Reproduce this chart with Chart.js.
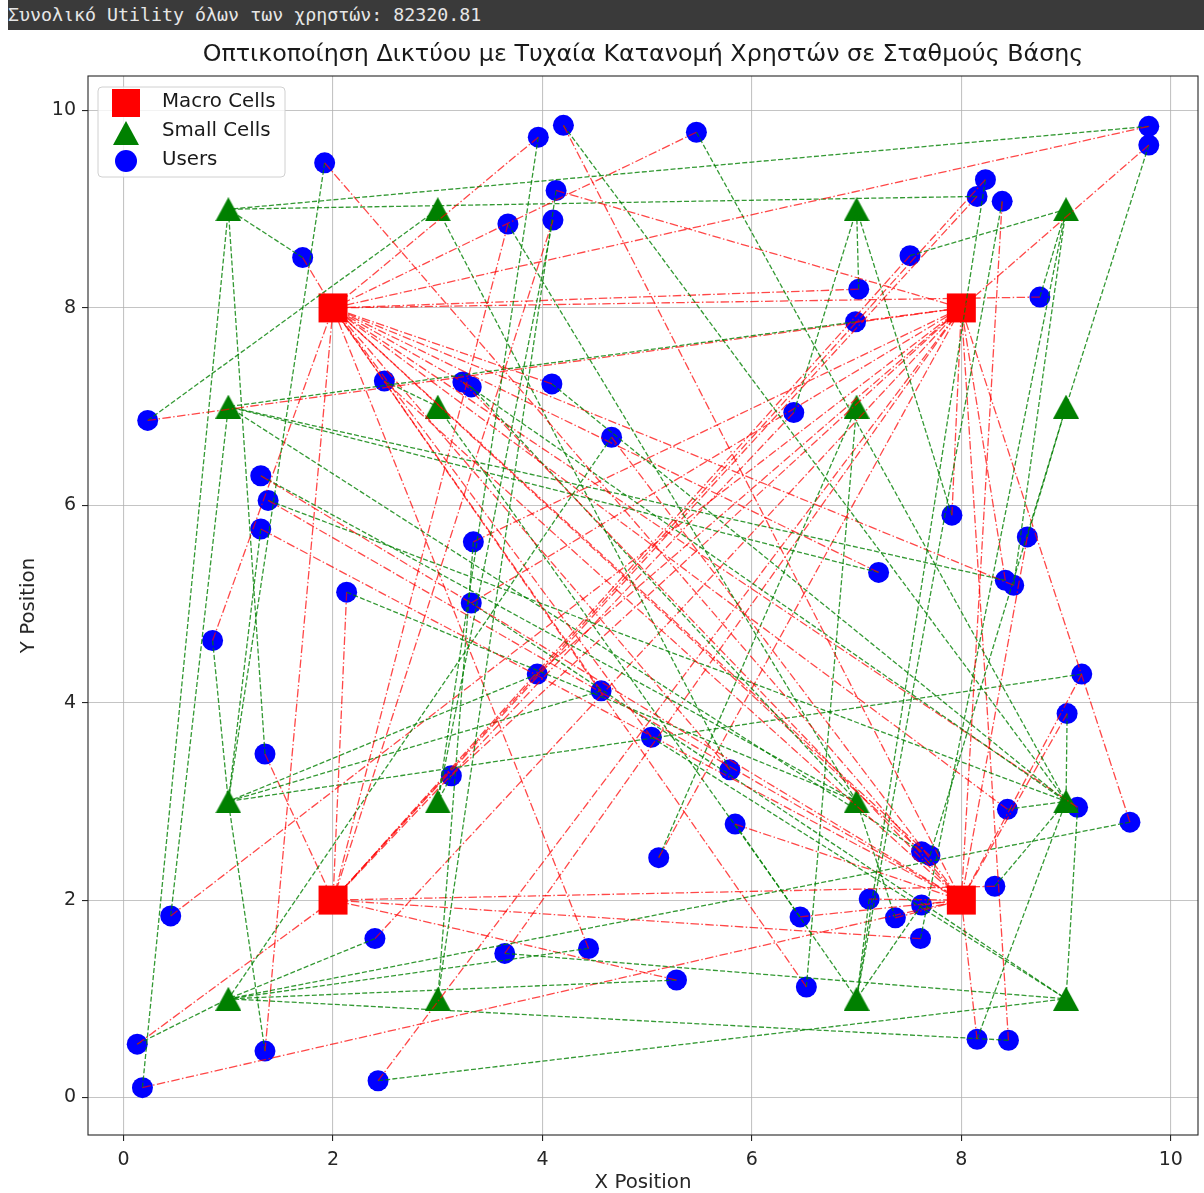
<!DOCTYPE html>
<html>
<head>
<meta charset="utf-8">
<script src="https://cdn.jsdelivr.net/npm/chart.js@4.4.0/dist/chart.umd.min.js"></script>
<style>
  html, body { margin: 0; padding: 0; background: #fff; }
  #wrap { position: absolute; left: 0; top: 0; width: 1204px; height: 1193px; }
  #bar {
    position: absolute; left: 8px; top: 0; width: 1196px; height: 30px;
    background: #3a3a3a; color: #e6e6e6;
    font: 18.3px 'DejaVu Sans Mono', monospace; line-height: 30px;
    white-space: nowrap; overflow: hidden;
  }
</style>
</head>
<body>
<div id="wrap"><canvas id="netChart" width="1204" height="1193"></canvas></div>
<div id="bar">Συνολικό Utility όλων των χρηστών: 82320.81</div>
<script>
// Base stations
const macroX = [2, 8, 2, 8];
const macroY = [8, 8, 2, 2];
const smallX = [1, 3, 7, 9, 1, 3, 7, 9, 1, 3, 7, 9, 1, 3, 7, 9];
const smallY = [9, 9, 9, 9, 7, 7, 7, 7, 3, 3, 3, 3, 1, 1, 1, 1];

// Users (positions)
const userX = [9.79, 9.79, 4.20, 3.96, 5.47, 1.92, 4.13, 4.10, 3.67, 8.23,
               8.15, 8.39, 1.71, 7.51, 7.02, 8.75, 6.99, 0.23, 2.49, 3.24,
               3.32, 4.09, 6.40, 4.66, 1.31, 1.38, 1.31, 7.91, 8.63, 3.34,
               7.21, 8.42, 8.50, 2.13, 3.32, 0.85, 9.15, 3.95, 4.56, 9.01,
               5.04, 1.35, 5.79, 3.13, 5.84, 9.11, 8.44, 9.61, 7.62, 7.70,
               5.11, 8.32, 7.12, 7.62, 6.46, 7.37, 0.45, 2.40, 7.61, 4.44,
               3.64, 5.28, 6.52, 0.13, 1.35, 8.15, 8.45, 2.43, 0.18];
const userY = [9.84, 9.65, 9.85, 9.73, 9.78, 9.47, 9.19, 8.89, 8.85, 9.30,
               9.13, 9.08, 8.51, 8.53, 8.19, 8.11, 7.86, 6.86, 7.26, 7.25,
               7.20, 7.23, 6.94, 6.69, 6.30, 6.05, 5.76, 5.90, 5.68, 5.63,
               5.32, 5.24, 5.19, 5.12, 5.01, 4.63, 4.29, 4.29, 4.12, 3.89,
               3.65, 3.48, 3.32, 3.26, 2.77, 2.94, 2.92, 2.79, 2.49, 2.45,
               2.43, 2.14, 2.01, 1.95, 1.83, 1.82, 1.84, 1.61, 1.61, 1.51,
               1.46, 1.19, 1.12, 0.54, 0.47, 0.59, 0.58, 0.17, 0.10];
// index of the macro cell and of the small cell each user is linked to
const userMacro = [0, 1, 3, 0, 0, 3, 1, 2, 2, 2,
                   2, 3, 0, 2, 0, 0, 1, 1, 3, 3,
                   0, 0, 2, 3, 3, 3, 3, 1, 3, 1,
                   0, 1, 0, 2, 1, 0, 3, 1, 0, 3,
                   0, 2, 0, 1, 3, 0, 0, 1, 0, 0,
                   1, 2, 3, 3, 3, 3, 1, 1, 2, 0,
                   1, 2, 0, 2, 0, 3, 1, 1, 3];
const userSmall = [0, 7, 11, 9, 11, 8, 13, 9, 10, 14,
                   0, 14, 0, 3, 2, 3, 4, 1, 5, 11,
                   10, 11, 2, 12, 10, 11, 8, 2, 7, 13,
                   4, 4, 3, 10, 15, 8, 8, 8, 8, 11,
                   15, 0, 1, 9, 14, 15, 11, 12, 4, 7,
                   6, 11, 14, 14, 5, 10, 4, 12, 3, 12,
                   15, 12, 6, 12, 8, 11, 12, 15, 0];

const xTicks = [0, 2, 4, 6, 8, 10];
const yTicks = [0, 2, 4, 6, 8, 10];

function toPoints(xs, ys) {
  return xs.map((x, i) => ({ x: x, y: ys[i] }));
}

function triangleImage(w, h, color) {
  const c = document.createElement('canvas');
  c.width = w;
  c.height = h;
  const g = c.getContext('2d');
  g.fillStyle = color;
  g.beginPath();
  g.moveTo(w / 2, 0);
  g.lineTo(w, h);
  g.lineTo(0, h);
  g.closePath();
  g.fill();
  return c;
}

const RED_LINE = 'rgba(255, 0, 0, 0.72)';
const GREEN_LINE = 'rgba(0, 128, 0, 0.8)';
const triangle = triangleImage(26, 24, '#008000');

// one small dataset per link, user -> station
const links = [];
userX.forEach((ux, i) => {
  const m = userMacro[i];
  const s = userSmall[i];
  links.push({
    data: [{ x: ux, y: userY[i] }, { x: macroX[m], y: macroY[m] }],
    showLine: true, pointRadius: 0, borderWidth: 1.3,
    borderColor: RED_LINE, borderDash: [8.5, 2.4, 1.5, 2.4], order: 0
  });
  links.push({
    data: [{ x: ux, y: userY[i] }, { x: smallX[s], y: smallY[s] }],
    showLine: true, pointRadius: 0, borderWidth: 1.3,
    borderColor: GREEN_LINE, borderDash: [5, 2.2], order: 0
  });
});

const frameAndText = {
  id: 'frameAndText',
  afterDraw(chart) {
    const ctx = chart.ctx;
    const a = chart.chartArea;
    ctx.save();
    // axes frame
    ctx.strokeStyle = '#262626';
    ctx.lineWidth = 1.1;
    ctx.strokeRect(a.left, a.top, a.right - a.left, a.bottom - a.top);

    // title
    ctx.fillStyle = '#1a1a1a';
    ctx.font = '23.8px "DejaVu Sans"';
    ctx.textAlign = 'center';
    ctx.textBaseline = 'middle';
    ctx.fillText('Οπτικοποίηση Δικτύου με Τυχαία Κατανομή Χρηστών σε Σταθμούς Βάσης',
      (a.left + a.right) / 2, 55);

    // legend box
    const lx = 98, ly = 87, lw = 187, lh = 90, r = 4;
    ctx.beginPath();
    ctx.moveTo(lx + r, ly);
    ctx.arcTo(lx + lw, ly, lx + lw, ly + lh, r);
    ctx.arcTo(lx + lw, ly + lh, lx, ly + lh, r);
    ctx.arcTo(lx, ly + lh, lx, ly, r);
    ctx.arcTo(lx, ly, lx + lw, ly, r);
    ctx.closePath();
    ctx.fillStyle = 'rgba(255, 255, 255, 0.8)';
    ctx.fill();
    ctx.strokeStyle = '#d0d0d0';
    ctx.lineWidth = 1;
    ctx.stroke();

    ctx.fillStyle = '#ff0000';
    ctx.fillRect(126 - 14, 103 - 14, 28, 28);
    ctx.drawImage(triangle, 126 - 13, 133 - 12);
    ctx.fillStyle = '#0000ff';
    ctx.beginPath();
    ctx.arc(126, 161, 11, 0, Math.PI * 2);
    ctx.fill();

    ctx.fillStyle = '#1a1a1a';
    ctx.font = '19.8px "DejaVu Sans"';
    ctx.textAlign = 'left';
    ctx.fillText('Macro Cells', 162, 102);
    ctx.fillText('Small Cells', 162, 131);
    ctx.fillText('Users', 162, 160);
    ctx.restore();
  }
};

Chart.defaults.font.family = '"DejaVu Sans", sans-serif';
Chart.defaults.color = '#262626';

new Chart(document.getElementById('netChart'), {
  type: 'scatter',
  data: {
    datasets: [
      {
        label: 'Macro Cells',
        data: toPoints(macroX, macroY),
        pointStyle: 'rect', pointRadius: 20.5,
        backgroundColor: '#ff0000', borderColor: '#ff0000', borderWidth: 0,
        order: 1
      },
      {
        label: 'Small Cells',
        data: toPoints(smallX, smallY),
        pointStyle: triangle, pointRadius: 13,
        backgroundColor: '#008000', borderColor: '#008000',
        order: 1
      },
      {
        label: 'Users',
        data: toPoints(userX, userY),
        pointStyle: 'circle', pointRadius: 10.5,
        backgroundColor: '#0000ff', borderColor: '#0000ff', borderWidth: 0,
        order: 1
      }
    ].concat(links)
  },
  options: {
    responsive: false,
    devicePixelRatio: 1,
    animation: false,
    events: [],
    layout: { autoPadding: false, padding: { left: 0, top: 76, right: 6, bottom: 0 } },
    plugins: {
      legend: { display: false },
      tooltip: { enabled: false },
      title: { display: false }
    },
    scales: {
      x: {
        type: 'linear',
        min: -0.34,
        max: 10.26,
        afterBuildTicks: (scale) => { scale.ticks = xTicks.map(v => ({ value: v })); },
        afterFit: (scale) => {
          scale.height = 58;
          scale.paddingLeft = 0;
          scale.paddingRight = 0;
        },
        grid: {
          color: 'rgba(176, 176, 176, 0.75)', lineWidth: 1.1,
          tickColor: '#262626', tickLength: 6, tickWidth: 1.1
        },
        border: { display: false },
        ticks: { font: { size: 19 }, padding: 8, maxRotation: 0 },
        title: { display: true, text: 'X Position', font: { size: 19.8, lineHeight: 1 }, padding: { top: 0, bottom: 0 } }
      },
      y: {
        type: 'linear',
        min: -0.38,
        max: 10.35,
        afterBuildTicks: (scale) => { scale.ticks = yTicks.map(v => ({ value: v })); },
        afterFit: (scale) => {
          scale.width = 88;
          scale.paddingTop = 0;
          scale.paddingBottom = 0;
        },
        grid: {
          color: 'rgba(176, 176, 176, 0.75)', lineWidth: 1.1,
          tickColor: '#262626', tickLength: 6, tickWidth: 1.1
        },
        border: { display: false },
        ticks: { font: { size: 19 }, padding: 6 },
        title: { display: true, text: 'Y Position', font: { size: 19.8, lineHeight: 1 }, padding: { top: 19, bottom: 0 } }
      }
    }
  },
  plugins: [frameAndText]
});
</script>
</body>
</html>
